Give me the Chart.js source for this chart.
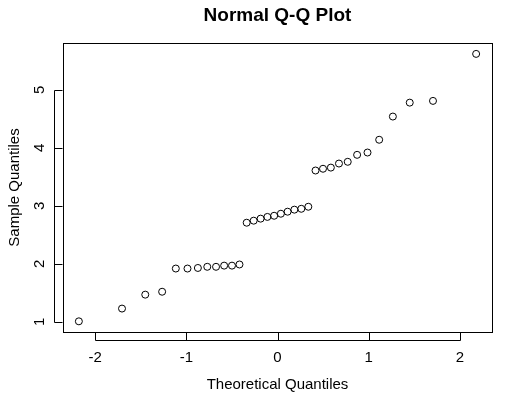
<!DOCTYPE html>
<html>
<head>
<meta charset="utf-8">
<script src="https://cdn.jsdelivr.net/npm/chart.js@4"></script>
<style>
  html, body { margin: 0; padding: 0; background: #fff; }
  #wrap { width: 512px; height: 397px; position: relative; }
</style>
</head>
<body>
<div id="wrap"><canvas id="myChart" width="512" height="397"></canvas></div>
<script>
// data: theoretical quantiles (n = 34) and sorted sample values
const theoretical = [
  -2.178, -1.705, -1.450, -1.265, -1.115, -0.987, -0.873, -0.770, -0.674, -0.585,
  -0.499, -0.417, -0.338, -0.261, -0.185, -0.111, -0.037,
   0.037,  0.111,  0.185,  0.261,  0.338,  0.417,  0.499,  0.585,  0.674,
   0.770,  0.873,  0.987,  1.115,  1.265,  1.450,  1.705,  2.178
];
const sample = [
  1.01, 1.23, 1.47, 1.52, 1.92, 1.92, 1.93, 1.95, 1.95, 1.97,
  1.97, 1.99, 2.71, 2.745, 2.78, 2.81, 2.83,
  2.865, 2.90, 2.935, 2.95, 2.985, 3.61, 3.64, 3.66, 3.73,
  3.76, 3.88, 3.92, 4.14, 4.54, 4.78, 4.81, 5.62
];
const xTicks = [-2, -1, 0, 1, 2];
const yTicks = [1, 2, 3, 4, 5];
const titleText = 'Normal Q-Q Plot';
const xTitle = 'Theoretical Quantiles';
const yTitle = 'Sample Quantiles';

const points = theoretical.map((x, i) => ({ x: x, y: sample[i] }));

// R-style frame, ticks and labels
const rAxes = {
  id: 'rAxes',
  afterDraw(chart) {
    const { ctx, chartArea: a, scales: { x, y } } = chart;
    const tick = 8;
    ctx.save();
    ctx.strokeStyle = '#000';
    ctx.lineWidth = 1;
    ctx.strokeRect(Math.round(a.left) + 0.5, Math.round(a.top) + 0.5,
      Math.round(a.right - a.left), Math.round(a.bottom - a.top));

    ctx.fillStyle = '#000';
    ctx.font = '15px "Liberation Sans", Arial, sans-serif';

    // x axis
    const xb = Math.round(a.bottom) + 0.5;
    ctx.beginPath();
    ctx.moveTo(Math.round(x.getPixelForValue(xTicks[0])) + 0.5, xb + tick);
    ctx.lineTo(Math.round(x.getPixelForValue(xTicks[xTicks.length - 1])) + 0.5, xb + tick);
    xTicks.forEach(v => {
      const px = Math.round(x.getPixelForValue(v)) + 0.5;
      ctx.moveTo(px, xb);
      ctx.lineTo(px, xb + tick);
    });
    ctx.stroke();
    ctx.textAlign = 'center';
    ctx.textBaseline = 'middle';
    xTicks.forEach(v => ctx.fillText(String(v), x.getPixelForValue(v), 358));

    // y axis
    const yl = Math.round(a.left) - 0.5;
    ctx.beginPath();
    ctx.moveTo(yl - tick, Math.round(y.getPixelForValue(yTicks[0])) + 0.5);
    ctx.lineTo(yl - tick, Math.round(y.getPixelForValue(yTicks[yTicks.length - 1])) + 0.5);
    yTicks.forEach(v => {
      const py = Math.round(y.getPixelForValue(v)) + 0.5;
      ctx.moveTo(yl - tick, py);
      ctx.lineTo(yl, py);
    });
    ctx.stroke();
    yTicks.forEach(v => {
      ctx.save();
      ctx.translate(40, y.getPixelForValue(v));
      ctx.rotate(-Math.PI / 2);
      ctx.fillText(String(v), 0, 0);
      ctx.restore();
    });

    // axis titles
    ctx.fillText(xTitle, (a.left + a.right) / 2, 385);
    ctx.save();
    ctx.translate(15, (a.top + a.bottom) / 2);
    ctx.rotate(-Math.PI / 2);
    ctx.fillText(yTitle, 0, 0);
    ctx.restore();

    // main title
    ctx.font = 'bold 19px "Liberation Sans", Arial, sans-serif';
    ctx.fillText(titleText, (a.left + a.right) / 2, 16);
    ctx.restore();
  }
};

const config = {
  type: 'scatter',
  data: {
    datasets: [{
      data: points,
      pointStyle: 'circle',
      pointRadius: 3.5,
      pointHoverRadius: 3.5,
      borderWidth: 1,
      borderColor: '#000',
      backgroundColor: 'rgba(0,0,0,0)'
    }]
  },
  options: {
    responsive: false,
    animation: false,
    events: [],
    layout: { padding: { left: 63, right: 20, top: 43, bottom: 65 } },
    plugins: { legend: { display: false }, tooltip: { enabled: false } },
    scales: {
      x: { type: 'linear', min: -2.352, max: 2.352, display: false },
      y: { type: 'linear', min: 0.826, max: 5.808, display: false }
    }
  },
  plugins: [rAxes]
};

const myChart = new Chart(document.getElementById('myChart'), config);
</script>
</body>
</html>
